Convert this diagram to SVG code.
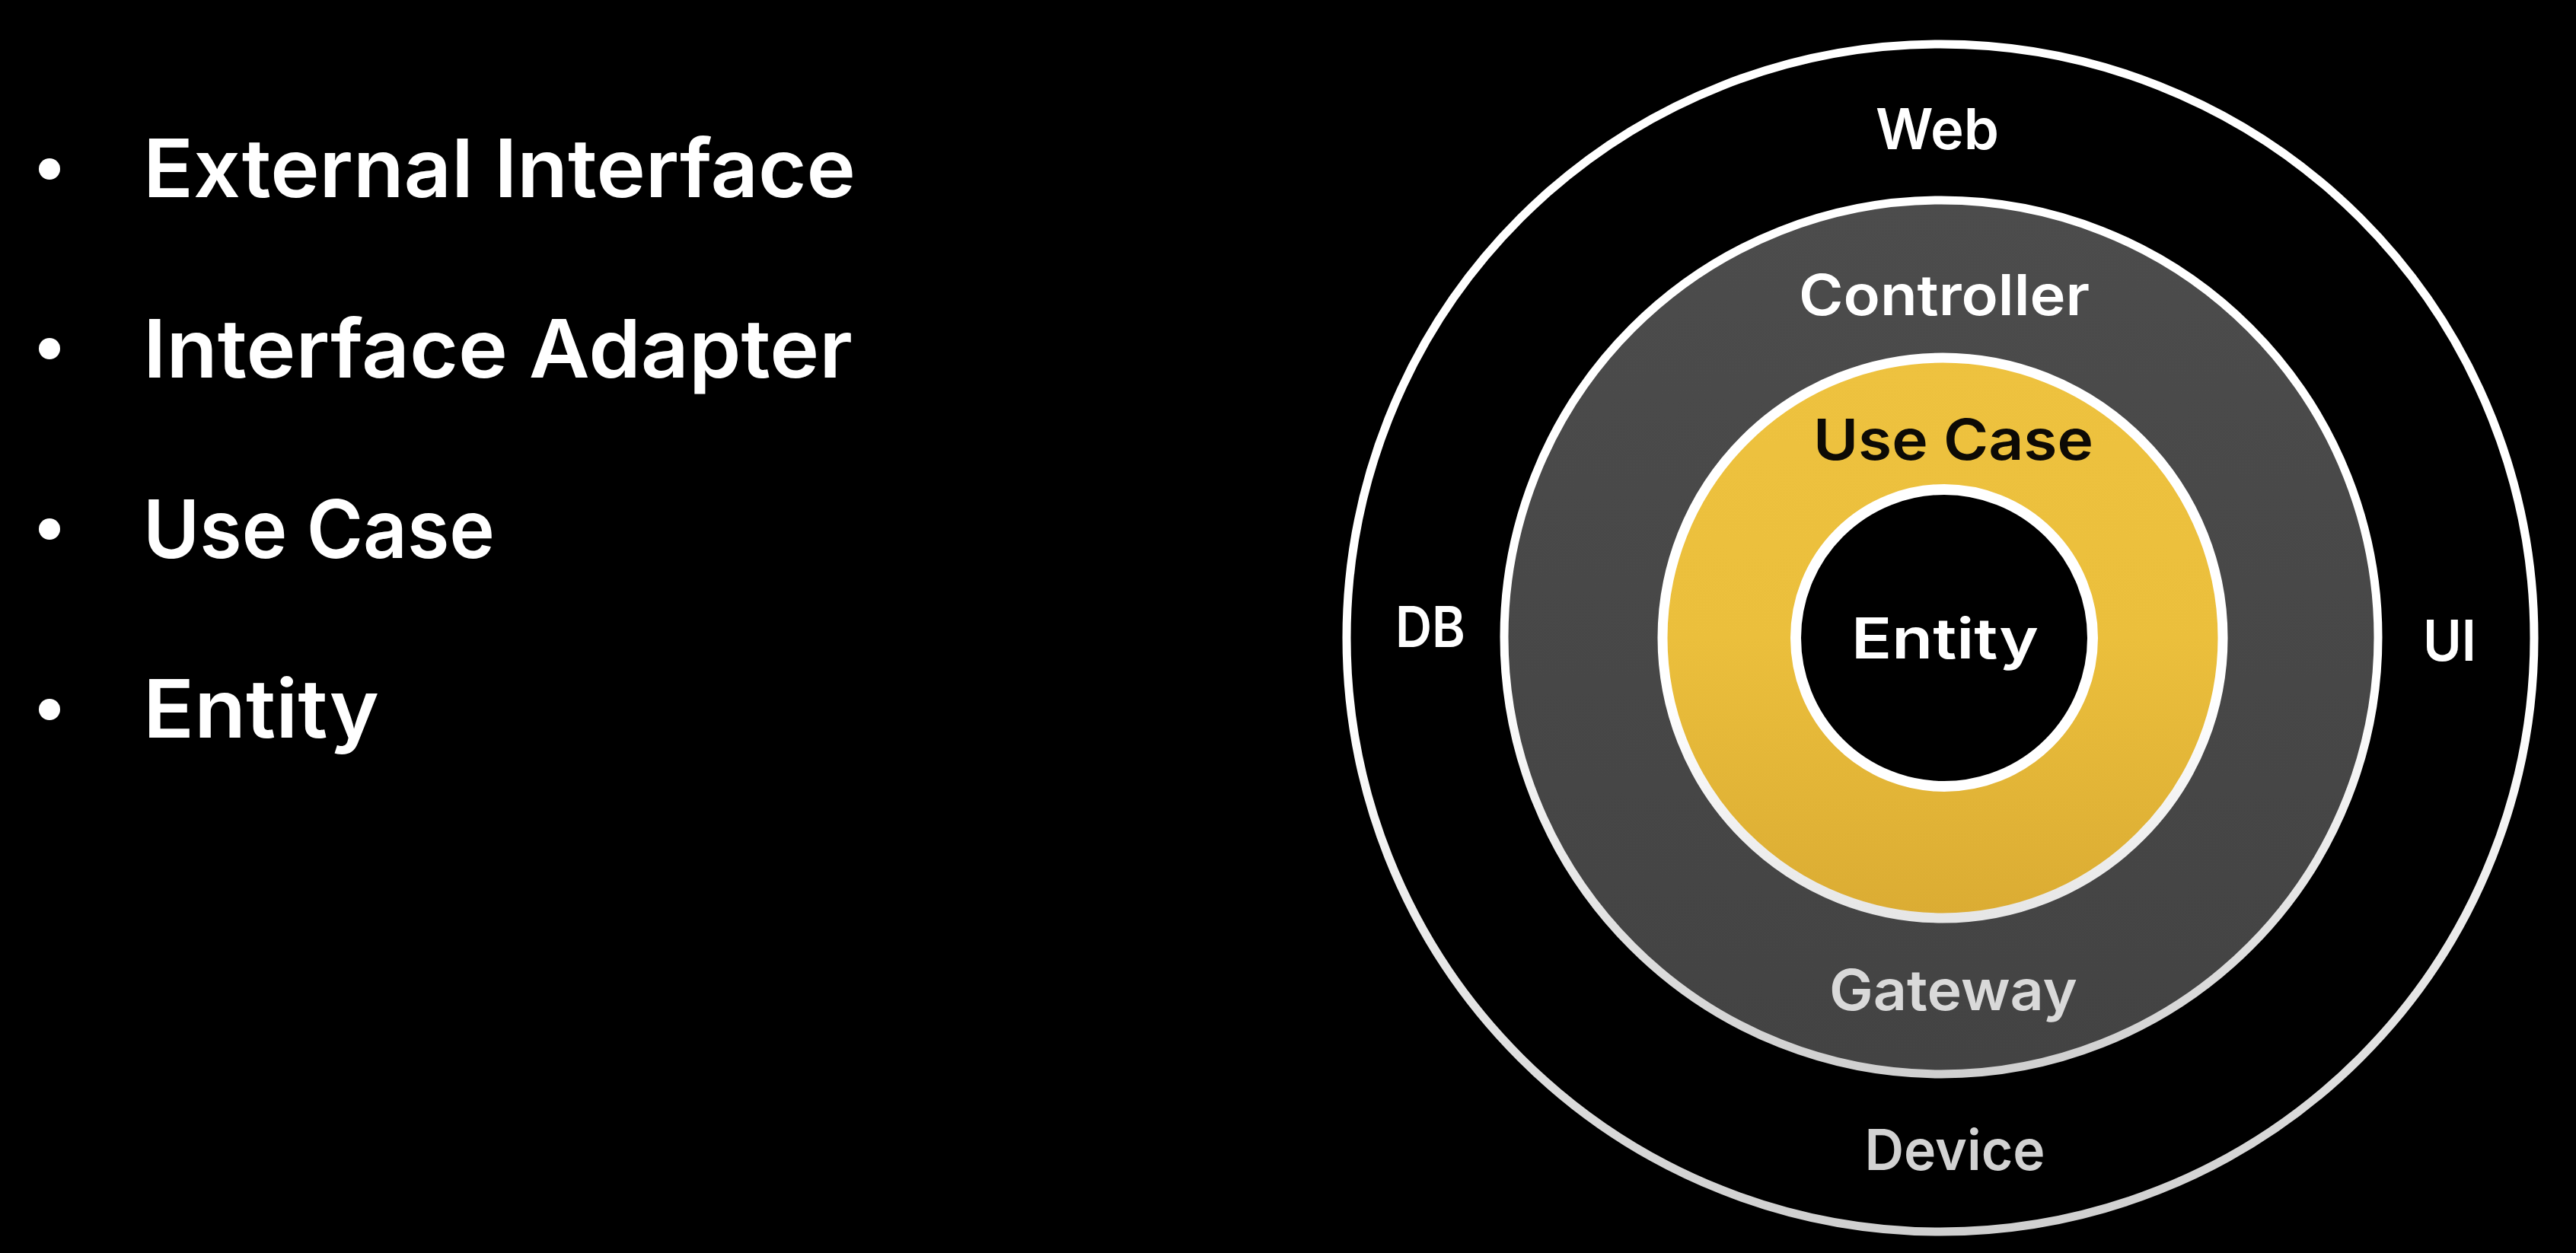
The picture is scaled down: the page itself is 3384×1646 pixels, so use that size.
<svg xmlns="http://www.w3.org/2000/svg" width="3384" height="1646" viewBox="0 0 3384 1646">
<defs>
<linearGradient id="gGray" x1="0" y1="0" x2="0" y2="1"><stop offset="0" stop-color="#4c4c4c"/><stop offset="1" stop-color="#434343"/></linearGradient>
<linearGradient id="gYel" x1="0" y1="0" x2="0" y2="1"><stop offset="0" stop-color="#eec23f"/><stop offset="0.5" stop-color="#ebbf3c"/><stop offset="1" stop-color="#dbac33"/></linearGradient>
<linearGradient id="gStroke" x1="0" y1="0" x2="0" y2="1"><stop offset="0" stop-color="#ffffff"/><stop offset="0.55" stop-color="#ffffff"/><stop offset="1" stop-color="#cfcfcf"/></linearGradient>
<linearGradient id="gStroke2" x1="0" y1="0" x2="0" y2="1"><stop offset="0" stop-color="#ffffff"/><stop offset="0.6" stop-color="#ffffff"/><stop offset="1" stop-color="#e6e6e6"/></linearGradient>
<style>
.t{font-family:Inter,"Noto Sans","Liberation Sans",sans-serif;font-weight:600;}
.lst{font-size:106px;fill:#ffffff;}
.lbl{font-size:74px;text-anchor:middle;}
.ring{stroke-width:11;}
</style>
</defs>
<rect x="0" y="0" width="3384" height="1646" fill="#000000"/>
<g id="list">
<g id="item1"><circle cx="65" cy="222" r="14" fill="#fff"/><text class="t lst" x="188" y="259" textLength="936" lengthAdjust="spacingAndGlyphs">External Interface</text></g>
<g id="item2"><circle cx="65" cy="458" r="14" fill="#fff"/><text class="t lst" x="188" y="496" textLength="932" lengthAdjust="spacingAndGlyphs">Interface Adapter</text></g>
<g id="item3"><circle cx="65" cy="695" r="14" fill="#fff"/><text class="t lst" x="188" y="733" textLength="462" lengthAdjust="spacingAndGlyphs">Use Case</text></g>
<g id="item4"><circle cx="65" cy="932" r="14" fill="#fff"/><text class="t lst" x="188" y="969" textLength="310" lengthAdjust="spacingAndGlyphs">Entity</text></g>
</g>
<g id="ring-external">
<circle class="ring" cx="2549" cy="838" r="780" fill="#000" stroke="url(#gStroke)"/>
<text class="t lbl" x="2545" y="196" fill="#fff" textLength="162" lengthAdjust="spacingAndGlyphs">Web</text>
<text class="t lbl" x="1879" y="850" fill="#fff" textLength="92" lengthAdjust="spacingAndGlyphs">DB</text>
<text class="t lbl" x="3218" y="868" fill="#fff" textLength="70" lengthAdjust="spacingAndGlyphs">UI</text>
<text class="t lbl" x="2568" y="1537" fill="#d2d2d2" textLength="237" lengthAdjust="spacingAndGlyphs">Device</text>
</g>
<g id="ring-adapter">
<circle class="ring" cx="2550" cy="837" r="574" fill="url(#gGray)" stroke="url(#gStroke)"/>
<text class="t lbl" x="2554" y="414" fill="#fff" textLength="382" lengthAdjust="spacingAndGlyphs">Controller</text>
<text class="t lbl" x="2566" y="1327" fill="#d9d9d9" textLength="326" lengthAdjust="spacingAndGlyphs">Gateway</text>
</g>
<g id="ring-usecase">
<circle cx="2552" cy="838" r="368" fill="url(#gYel)" stroke="url(#gStroke2)" stroke-width="13"/>
<text class="t lbl" x="2566" y="604" fill="#0d0a05" textLength="368" lengthAdjust="spacingAndGlyphs">Use Case</text>
</g>
<g id="core-entity">
<circle cx="2554" cy="838" r="195" fill="#000" stroke="#fff" stroke-width="14"/>
<text class="t lbl" x="2555" y="865" fill="#fff" textLength="246" lengthAdjust="spacingAndGlyphs">Entity</text>
</g>
<g id="connectors"/>
</svg>
